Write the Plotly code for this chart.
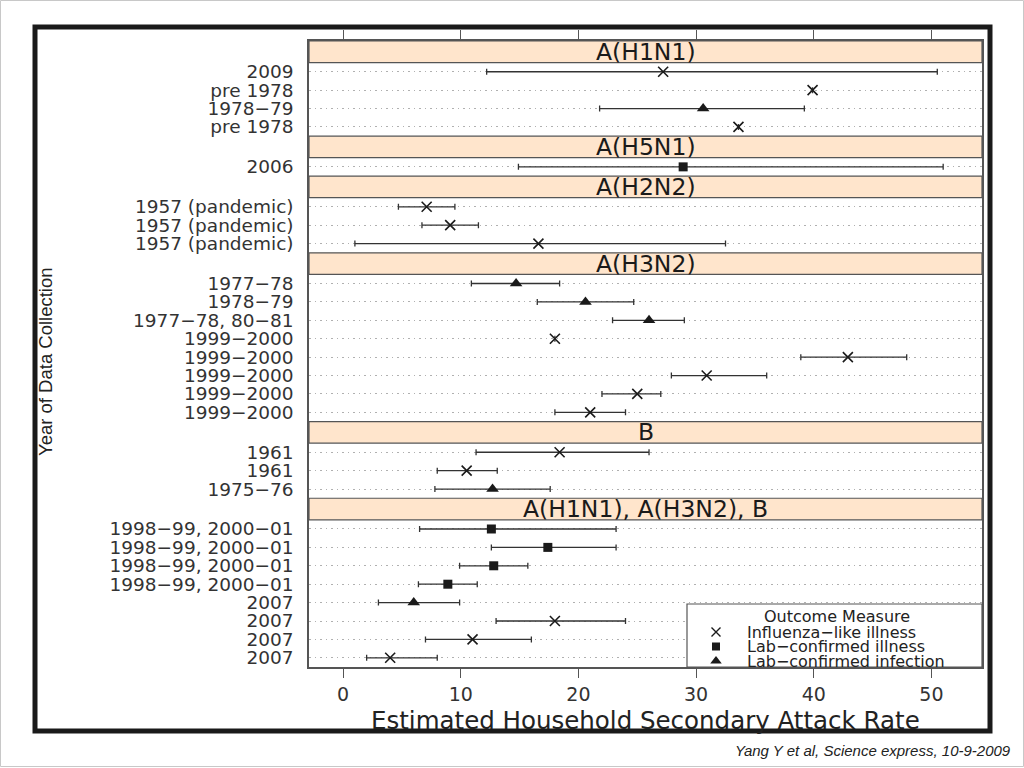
import plotly.graph_objects as go

# ---------------- data ----------------
groups = ["A(H1N1)", "A(H5N1)", "A(H2N2)", "A(H3N2)", "B", "A(H1N1), A(H3N2), B"]

row_group = [0, 0, 0, 0,
             1,
             2, 2, 2,
             3, 3, 3, 3, 3, 3, 3, 3,
             4, 4, 4,
             5, 5, 5, 5, 5, 5, 5, 5]

row_label = ["2009", "pre 1978", "1978−79", "pre 1978",
             "2006",
             "1957 (pandemic)", "1957 (pandemic)", "1957 (pandemic)",
             "1977−78", "1978−79", "1977−78, 80−81", "1999−2000", "1999−2000",
             "1999−2000", "1999−2000", "1999−2000",
             "1961", "1961", "1975−76",
             "1998−99, 2000−01", "1998−99, 2000−01", "1998−99, 2000−01", "1998−99, 2000−01",
             "2007", "2007", "2007", "2007"]

estimate = [27.2, 39.9, 30.6, 33.6,
            28.9,
            7.1, 9.1, 16.6,
            14.7, 20.6, 26.0, 18.0, 42.9, 30.9, 25.0, 21.0,
            18.4, 10.5, 12.7,
            12.6, 17.4, 12.8, 8.9, 6.0, 18.0, 11.0, 4.0]

ci_low = [12.2, None, 21.8, None,
          14.9,
          4.7, 6.7, 1.0,
          10.9, 16.5, 22.9, None, 38.9, 27.9, 22.0, 18.0,
          11.3, 8.0, 7.8,
          6.5, 12.6, 9.9, 6.4, 3.0, 13.0, 7.0, 2.0]

ci_high = [50.5, None, 39.2, None,
           51.0,
           9.5, 11.5, 32.5,
           18.4, 24.7, 29.0, None, 47.9, 36.0, 27.0, 24.0,
           26.0, 13.1, 17.6,
           23.2, 23.2, 15.7, 11.4, 9.9, 24.0, 16.0, 8.0]

# 0 = Influenza-like illness, 1 = Lab-confirmed illness, 2 = Lab-confirmed infection
outcome = [0, 0, 2, 0,
           1,
           0, 0, 0,
           2, 2, 2, 0, 0, 0, 0, 0,
           0, 0, 2,
           1, 1, 1, 1, 2, 0, 0, 0]

outcome_names = ["Influenza−like illness", "Lab−confirmed illness", "Lab−confirmed infection"]
legend_title = "Outcome Measure"
x_ticks = [0, 10, 20, 30, 40, 50]
x_range = [-2.9, 54.3]
x_title = "Estimated Household Secondary Attack Rate"
y_title = "Year of Data Collection"
citation = "Yang Y et al, Science express, 10-9-2009"

# ---------------- styles ----------------
symbols = ["x-thin", "square", "triangle-up"]
sizes = [10, 9, 11]
FONT = "DejaVu Sans"
STRIP = 1.17   # strip height in row units
STRIP_FILL = "#FFE5CC"
LINE = "#555555"

# layout positions (pixels)
L, R, T, B = 309, 982, 41, 667
W, H = 1024, 768

# ---------------- compute lattice positions ----------------
row_y = [0.0] * len(row_label)
strip_spans = []
cur = 0.0
for g in range(len(groups)):
    strip_spans.append((cur, cur + STRIP))
    cur += STRIP
    for i, rg in enumerate(row_group):
        if rg == g:
            row_y[i] = cur + 0.5
            cur += 1.0
total = cur


def px(x):
    return (x - L) / (R - L)


def py(y):
    return (B - y) / (B - T)


def dx(pix):   # pixel -> data x
    return x_range[0] + (pix - L) / (R - L) * (x_range[1] - x_range[0])


def dy(pix):   # pixel -> data y (reversed axis, 0 at top)
    return (pix - T) / (B - T) * total


fig = go.Figure()

for k, name in enumerate(outcome_names):
    idx = [i for i, o in enumerate(outcome) if o == k]
    xs = [estimate[i] for i in idx]
    ys = [row_y[i] for i in idx]
    plus = [(ci_high[i] - estimate[i]) if ci_high[i] is not None else None for i in idx]
    minus = [(estimate[i] - ci_low[i]) if ci_low[i] is not None else None for i in idx]
    fig.add_trace(go.Scatter(
        x=xs, y=ys, mode="markers", name=name, showlegend=False,
        marker=dict(symbol=symbols[k], size=sizes[k], color="#1a1a1a",
                    line=dict(color="#1a1a1a", width=1.6 if k == 0 else 0)),
        error_x=dict(type="data", symmetric=False, array=plus, arrayminus=minus,
                     color="#333333", thickness=1.3, width=3),
        hoverinfo="skip",
    ))

# manual legend key (positions in pixels, converted to data space)
leg_x0, leg_x1, leg_y0, leg_y1 = 687, R, 604, B
leg_rows = [leg_y0 + 28 + 14.5 * k for k in range(len(outcome_names))]
for k, name in enumerate(outcome_names):
    fig.add_trace(go.Scatter(
        x=[dx(leg_x0 + 29)], y=[dy(leg_rows[k])], mode="markers",
        showlegend=False, hoverinfo="skip",
        marker=dict(symbol=symbols[k], size=sizes[k] - 1, color="#1a1a1a",
                    line=dict(color="#1a1a1a", width=1.4 if k == 0 else 0)),
    ))

shapes = []
annotations = []

# strips
for g, (s0, s1) in enumerate(strip_spans):
    shapes.append(dict(type="rect", xref="paper", yref="y", x0=0, x1=1, y0=s0, y1=s1,
                       fillcolor=STRIP_FILL, line=dict(color=LINE, width=1.2), layer="between"))
    annotations.append(dict(text=groups[g], xref="paper", yref="y", x=0.5, y=(s0 + s1) / 2,
                            showarrow=False, xanchor="center", yanchor="middle",
                            font=dict(family=FONT, size=23.5, color="#1a1a1a")))

# legend box
shapes.append(dict(type="rect", xref="x", yref="y", x0=dx(leg_x0), x1=dx(leg_x1),
                   y0=dy(leg_y0), y1=dy(leg_y1),
                   fillcolor="white", line=dict(color=LINE, width=1.2), layer="between"))
annotations.append(dict(text=legend_title, xref="paper", yref="paper", x=px((leg_x0 + leg_x1) / 2 + 2),
                        y=py(leg_y0 + 12), showarrow=False, xanchor="center", yanchor="middle",
                        font=dict(family=FONT, size=16, color="#222")))
for k, name in enumerate(outcome_names):
    annotations.append(dict(text=name, xref="paper", yref="paper", x=px(leg_x0 + 58), y=py(leg_rows[k]),
                            showarrow=False, xanchor="left", yanchor="middle",
                            font=dict(family=FONT, size=16, color="#222")))

# axis titles
annotations.append(dict(text=x_title, xref="paper", yref="paper", x=0.5, y=py(720),
                        showarrow=False, xanchor="center", yanchor="middle",
                        font=dict(family=FONT, size=24.5, color="#222")))
annotations.append(dict(text=y_title, xref="paper", yref="paper", x=px(46), y=py(362),
                        showarrow=False, xanchor="center", yanchor="middle", textangle=-90,
                        font=dict(family="Liberation Sans", size=18.5, color="#222")))
annotations.append(dict(text="<i>" + citation + "</i>", xref="paper", yref="paper", x=px(1013), y=py(750),
                        showarrow=False, xanchor="right", yanchor="middle",
                        font=dict(family="Liberation Sans", size=15, color="#222")))

# outer black frame and slide border
shapes.append(dict(type="rect", xref="paper", yref="paper", x0=px(35), x1=px(990), y0=py(731), y1=py(27),
                   line=dict(color="#1a1a1a", width=5), fillcolor="rgba(0,0,0,0)", layer="above"))
shapes.append(dict(type="rect", xref="paper", yref="paper", x0=px(0.5), x1=px(1023.5), y0=py(766.5), y1=py(0.5),
                   line=dict(color="#c8c8c8", width=1), fillcolor="rgba(0,0,0,0)", layer="above"))

fig.update_layout(
    width=W, height=H,
    margin=dict(l=L, r=W - R, t=T, b=H - B, pad=0),
    paper_bgcolor="white", plot_bgcolor="white",
    showlegend=False,
    xaxis=dict(range=x_range, tickvals=x_ticks, ticks="outside", ticklen=9, tickwidth=1.2,
               tickcolor=LINE, showline=True, linecolor=LINE, linewidth=1.5, mirror="ticks",
               showgrid=False, zeroline=False,
               tickfont=dict(family=FONT, size=19, color="#333")),
    yaxis=dict(range=[total, 0], tickvals=row_y, ticktext=row_label, ticks="",
               showline=True, linecolor=LINE, linewidth=1.5, mirror=True,
               showgrid=True, gridcolor="#b0b0b0", griddash="1.5px,4px", gridwidth=1,
               zeroline=False, ticklabelstandoff=10,
               tickfont=dict(family=FONT, size=18.5, color="#333")),
    shapes=shapes,
    annotations=annotations,
)

fig.write_html("out.html", config={"displayModeBar": False},
               post_script="document.body.style.margin='0';document.body.style.overflow='hidden';")
